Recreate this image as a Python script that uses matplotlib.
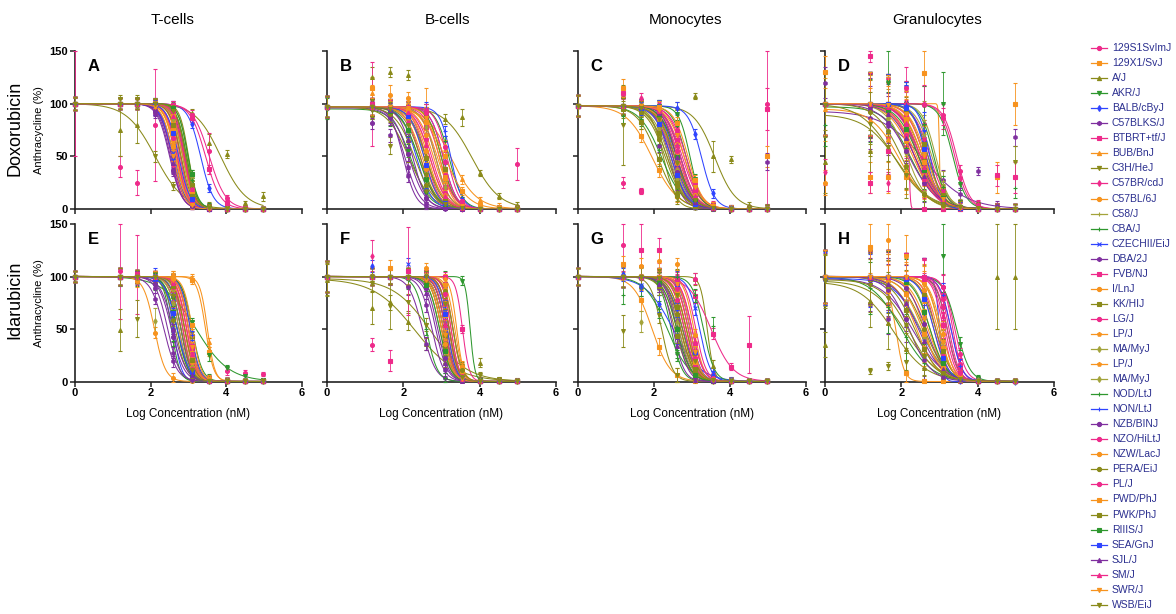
import numpy as np
import matplotlib
matplotlib.use("Agg")
import matplotlib.pyplot as plt

plt.rcParams['font.family'] = ['Liberation Sans', 'DejaVu Sans']

# ---------------- data ----------------
STRAINS = ["129S1SvImJ", "129X1/SvJ", "A/J", "AKR/J", "BALB/cByJ", "C57BLKS/J", "BTBRT+tf/J",
           "BUB/BnJ", "C3H/HeJ", "C57BR/cdJ", "C57BL/6J", "C58/J", "CBA/J", "CZECHII/EiJ",
           "DBA/2J", "FVB/NJ", "I/LnJ", "KK/HIJ", "LG/J", "LP/J", "MA/MyJ", "LP/J", "MA/MyJ",
           "NOD/LtJ", "NON/LtJ", "NZB/BINJ", "NZO/HiLtJ", "NZW/LacJ", "PERA/EiJ", "PL/J",
           "PWD/PhJ", "PWK/PhJ", "RIIIS/J", "SEA/GnJ", "SJL/J", "SM/J", "SWR/J", "WSB/EiJ"]
COLOR_KEYS = ["pink", "orange", "olive", "green", "blue", "purple", "pink", "orange", "olive",
              "pink", "orange", "olive2", "green", "blue", "purple", "pink", "orange", "olive",
              "pink", "orange", "olive2", "orange", "olive2", "green", "blue", "purple", "pink",
              "orange", "olive", "pink", "orange", "olive", "green", "blue", "purple", "pink",
              "orange", "olive"]
MARKERS = ["o", "s", "^", "v", "d", "h", "s", "^", "v", "d", "o", "+", "+", "x", "h", "s", "o",
           "s", "o", "p", "d", "p", "d", "+", "+", "o", "o", "o", "o", "o", "s", "s", "s", "s",
           "^", "^", "v", "v"]

DOSES = [0, 1.18, 1.65, 2.12, 2.6, 3.08, 3.55, 4.02, 4.5, 4.97]

IC50 = {
    "A": [2.85, 2.75, 3.85, 2.90, 3.32, 2.60, 3.45, 2.70, 2.12, 2.55, 2.80, 2.95, 2.88, 2.62, 2.50,
          2.78, 2.65, 2.92, 3.55, 2.72, 2.98, 2.68, 2.84, 2.95, 2.58, 2.52, 2.90, 2.66, 3.00, 2.70,
          2.86, 2.80, 2.99, 2.74, 2.56, 2.88, 2.60, 2.93],
    "B": [2.75, 2.90, 3.80, 2.20, 3.05, 2.05, 2.60, 3.25, 2.15, 2.45, 2.80, 2.60, 3.00, 2.35, 2.00,
          2.85, 2.50, 3.00, 2.95, 2.70, 2.40, 2.55, 2.85, 3.20, 3.25, 2.15, 3.05, 2.65, 2.30, 3.15,
          3.10, 2.60, 2.40, 2.55, 2.25, 2.70, 2.95, 2.45],
    "C": [2.60, 1.95, 3.60, 2.95, 3.25, 2.45, 2.55, 2.70, 2.25, 2.50, 2.60, 2.35, 2.20, 2.55, 2.40,
          2.75, 2.65, 2.10, 2.80, 2.45, 2.50, 2.70, 2.40, 2.85, 2.70, 2.50, 2.85, 2.55, 2.30, 2.65,
          2.90, 2.35, 2.60, 2.45, 2.60, 2.70, 2.80, 2.55],
    "D": [3.40, 3.00, 1.90, 3.35, 2.60, 2.60, 2.20, 1.95, 2.45, 2.75, 2.35, 2.90, 2.25, 2.70, 2.50,
          2.60, 2.30, 2.55, 3.45, 2.40, 2.15, 2.50, 2.80, 2.85, 2.75, 2.20, 2.45, 2.65, 2.00, 2.35,
          2.55, 2.70, 2.45, 2.65, 2.35, 2.50, 2.60, 1.80],
    "E": [2.95, 3.45, 2.80, 3.20, 2.60, 2.35, 2.90, 3.50, 2.70, 2.75, 2.10, 3.00, 2.55, 2.80, 2.45,
          3.00, 2.85, 3.05, 2.90, 2.95, 2.75, 3.05, 2.85, 3.10, 3.05, 2.55, 2.85, 2.90, 2.65, 3.00,
          3.10, 2.90, 2.70, 2.70, 2.60, 2.95, 3.00, 2.80],
    "F": [3.10, 3.35, 2.30, 3.75, 3.20, 2.50, 3.55, 3.20, 2.70, 3.00, 3.25, 3.10, 2.60, 3.30, 2.75,
          3.15, 3.30, 3.00, 3.05, 3.40, 3.15, 3.20, 2.95, 3.10, 3.05, 2.90, 3.20, 3.00, 3.30, 3.25,
          3.15, 3.05, 2.95, 3.15, 2.85, 3.10, 3.05, 3.20],
    "G": [3.00, 1.95, 3.40, 2.45, 2.50, 2.70, 3.50, 2.80, 2.20, 2.85, 2.60, 2.90, 2.35, 3.20, 2.65,
          2.95, 2.75, 2.55, 3.10, 2.70, 2.80, 2.90, 2.65, 3.30, 2.75, 2.60, 2.80, 3.05, 2.70, 2.90,
          2.85, 2.75, 2.60, 2.95, 2.50, 3.00, 2.95, 2.85],
    "H": [3.40, 1.85, 1.80, 3.45, 3.00, 2.30, 3.30, 2.60, 2.10, 2.90, 2.40, 2.75, 2.00, 2.50, 2.20,
          3.10, 2.95, 2.35, 3.35, 2.70, 2.50, 2.85, 3.00, 3.20, 3.30, 2.65, 3.20, 3.05, 2.60, 3.25,
          2.55, 2.90, 2.75, 2.85, 2.45, 3.15, 3.00, 2.20],
}

HILL = {
    "A": [3.0, 3.4, 1.3, 3.2, 2.6, 2.8, 2.2, 3.0, 1.15, 3.0, 3.5, 3.2, 3.0, 2.5, 2.7, 3.3, 3.0, 3.4, 2.0,
          3.1, 3.6, 2.9, 3.2, 3.3, 2.6, 2.8, 3.5, 3.0, 3.8, 3.1, 3.3, 3.0, 3.4, 2.9, 2.7, 3.2, 3.0, 3.5],
    "B": [2.2, 2.0, 1.2, 1.8, 2.6, 2.2, 2.4, 1.3, 1.5, 2.3, 2.1, 1.9, 2.5, 2.2, 2.6, 2.4, 2.0, 2.5, 2.3,
          2.1, 1.8, 2.2, 2.4, 2.5, 3.0, 2.0, 2.6, 2.2, 1.7, 2.7, 1.5, 2.1, 1.9, 2.3, 2.4, 2.2, 2.6, 2.0],
    "C": [2.0, 1.3, 1.6, 3.0, 2.5, 2.2, 2.0, 2.1, 2.6, 1.9, 2.0, 1.8, 1.5, 2.3, 2.4, 2.0, 1.9, 1.6, 2.2,
          2.0, 2.1, 2.3, 1.9, 2.4, 2.2, 2.5, 2.1, 2.0, 1.8, 2.2, 2.3, 1.9, 2.1, 2.0, 2.4, 2.2, 2.0, 1.9],
    "D": [2.5, 30, 1.0, 2.5, 2.0, 0.8, 25, 1.2, 1.8, 2.0, 1.5, 2.5, 1.3, 2.2, 1.6, 1.9, 1.4, 1.7, 2.5,
          1.5, 1.6, 1.8, 2.0, 2.5, 3.0, 1.2, 1.7, 1.9, 1.3, 1.6, 1.8, 2.1, 1.5, 2.5, 1.4, 1.7, 2.0, 1.0],
    "E": [3.5, 4.0, 3.2, 1.0, 4.0, 2.5, 3.6, 4.5, 3.0, 3.3, 3.0, 3.8, 4.0, 3.4, 2.8, 3.6, 3.5, 3.9, 3.2,
          3.7, 3.1, 3.6, 3.4, 3.3, 3.5, 2.6, 3.8, 3.5, 2.9, 3.6, 3.7, 3.3, 3.0, 2.7, 2.5, 3.4, 3.8, 3.2],
    "F": [3.5, 4.0, 0.8, 7.0, 3.6, 2.5, 5.0, 3.8, 0.9, 3.3, 4.2, 3.5, 3.0, 3.9, 2.8, 3.6, 4.0, 3.2, 3.4,
          5.0, 3.7, 3.9, 3.1, 3.5, 3.4, 3.0, 3.8, 3.3, 3.6, 4.1, 3.5, 3.2, 3.0, 3.7, 2.9, 3.6, 3.4, 3.8],
    "G": [3.0, 1.8, 5.0, 3.0, 1.2, 2.6, 1.5, 2.8, 3.0, 2.9, 2.4, 3.2, 1.5, 3.0, 2.7, 3.1, 2.6, 2.3, 3.2,
          2.5, 2.8, 3.0, 2.4, 3.0, 2.2, 2.9, 2.7, 3.3, 2.5, 3.0, 2.8, 2.6, 2.4, 3.1, 3.0, 2.9, 3.2, 2.7],
    "H": [3.0, 4.0, 1.0, 2.5, 8.0, 1.1, 3.0, 2.0, 1.0, 2.6, 1.6, 2.2, 1.1, 1.3, 1.5, 3.2, 2.4, 1.4, 3.5,
          1.8, 1.3, 2.5, 2.8, 3.0, 3.0, 1.7, 3.2, 2.6, 1.5, 3.3, 1.6, 2.2, 2.0, 2.3, 1.4, 3.1, 2.7, 1.2],
}

TOP_DEFAULT = {"A": 100, "B": 97, "C": 98, "D": 100, "E": 100, "F": 100, "G": 100, "H": 100}
TOP_OVERRIDE = {
    "A": {}, "B": {3: 95, 5: 96}, "C": {}, "D": {2: 90, 5: 93, 7: 95, 12: 97},
    "E": {}, "F": {2: 98, 8: 98}, "G": {}, "H": {2: 95, 8: 96, 5: 98, 13: 98, 37: 97},
}

# typical SEM per dose
ERR = {
    "A": [6, 5, 5, 5, 4, 4, 4, 3, 2, 2],
    "B": [10, 8, 7, 6, 6, 5, 4, 3, 3, 3],
    "C": [10, 8, 6, 6, 6, 5, 4, 3, 3, 4],
    "D": [30, 30, 28, 22, 18, 10, 6, 5, 5, 5],
    "E": [5, 8, 6, 5, 5, 4, 4, 3, 2, 2],
    "F": [15, 8, 7, 8, 6, 5, 4, 3, 2, 2],
    "G": [8, 10, 10, 8, 7, 6, 5, 3, 2, 2],
    "H": [25, 25, 25, 22, 18, 12, 6, 3, 2, 2],
}

# measured means deviating from the fit: (strain, dose index, mean, sem)
OUTLIERS = {
    "A": [(0, 0, 100, 50), (0, 1, 40, 10), (0, 2, 25, 12), (2, 1, 75, 25), (2, 2, 80, 17),
          (0, 3, 80, 53), (2, 6, 63, 8), (2, 7, 52, 4), (2, 8, 6, 2), (2, 9, 12, 4), (18, 6, 55, 17),
          (8, 1, 104, 4), (8, 2, 104, 4)],
    "B": [(2, 1, 125, 10), (2, 2, 130, 5), (2, 3, 127, 5), (2, 6, 87, 8), (0, 9, 43, 15),
          (6, 1, 100, 40), (1, 4, 95, 20), (8, 2, 60, 8), (1, 1, 115, 10), (7, 1, 110, 8),
          (16, 3, 105, 6), (27, 2, 108, 10), (5, 2, 70, 6), (25, 1, 82, 6)],
    "C": [(2, 5, 107, 3), (2, 6, 50, 15), (2, 7, 47, 3), (0, 1, 25, 5), (6, 2, 17, 3),
          (8, 1, 80, 38), (0, 9, 100, 100), (15, 9, 95, 20), (5, 9, 45, 8), (1, 9, 50, 10),
          (1, 1, 115, 8), (15, 1, 110, 6), (9, 2, 105, 5), (12, 1, 88, 6), (5, 3, 60, 6)],
    "D": [(1, 0, 130, 15), (5, 0, 120, 15), (2, 0, 45, 30), (9, 0, 35, 12), (16, 0, 25, 12),
          (12, 0, 80, 20), (6, 1, 145, 5), (1, 1, 30, 15), (15, 1, 25, 10), (2, 1, 55, 20),
          (3, 2, 120, 30), (1, 2, 30, 15), (15, 2, 55, 20), (9, 2, 25, 8), (0, 3, 115, 20),
          (2, 3, 40, 20), (1, 3, 30, 12), (1, 4, 129, 50), (3, 5, 100, 30), (5, 7, 36, 4),
          (15, 8, 32, 10), (1, 8, 30, 15), (1, 9, 100, 20), (5, 9, 68, 8), (8, 9, 45, 15),
          (15, 9, 30, 15), (12, 9, 20, 10)],
    "E": [(0, 1, 105, 45), (6, 2, 102, 38), (2, 1, 49, 20), (8, 2, 60, 18), (20, 3, 58, 12),
          (3, 6, 25, 5), (0, 7, 10, 4), (0, 8, 8, 3), (0, 9, 7, 2), (4, 3, 100, 8)],
    "F": [(0, 1, 35, 6), (6, 2, 20, 10), (2, 1, 70, 15), (8, 2, 72, 22), (15, 3, 105, 42),
          (9, 1, 120, 15), (2, 7, 18, 4), (4, 1, 110, 6), (1, 2, 108, 8), (16, 4, 108, 5),
          (13, 3, 112, 6)],
    "G": [(8, 1, 48, 15), (20, 2, 57, 10), (0, 1, 130, 25), (6, 2, 125, 28), (15, 3, 125, 12),
          (6, 8, 35, 27), (23, 6, 53, 8), (1, 1, 112, 8), (10, 2, 110, 8), (16, 3, 115, 10),
          (27, 4, 112, 6), (4, 1, 102, 6), (13, 2, 92, 6), (12, 1, 82, 8), (18, 5, 98, 5)],
    "H": [(2, 8, 100, 50), (2, 9, 100, 50), (8, 1, 10, 3), (8, 2, 15, 4), (8, 3, 19, 8),
          (2, 0, 35, 12), (3, 5, 120, 35), (1, 1, 128, 25), (10, 2, 135, 20), (16, 3, 120, 20),
          (5, 2, 60, 15), (14, 3, 60, 12)],
}

PANELS = [["A", "B", "C", "D"], ["E", "F", "G", "H"]]
CELL_TYPES = ["T-cells", "B-cells", "Monocytes", "Granulocytes"]
DRUGS = ["Doxorubicin", "Idarubicin"]

# ---------------- style ----------------
PALETTE = {"pink": "#EE2A8A", "orange": "#F7931E", "olive": "#8A8A1A", "olive2": "#A3A33A",
           "green": "#2E972E", "blue": "#2F44FF", "purple": "#7F2F9F"}
W, H = 1176, 614
COL_X = [(75, 302), (327, 556), (578, 806), (825, 1054)]
ROW_Y = [(51, 209), (224, 381.5)]


def hill_curve(x, top, ic50, h):
    return top / (1.0 + 10.0 ** ((np.asarray(x, float) - ic50) * h))


fig = plt.figure(figsize=(W / 100, H / 100), dpi=100)

for r in range(2):
    for c in range(4):
        key = PANELS[r][c]
        x0, x1 = COL_X[c]
        yt, yb = ROW_Y[r]
        ax = fig.add_axes([x0 / W, 1 - yb / H, (x1 - x0) / W, (yb - yt) / H])
        xs = np.linspace(0, DOSES[-1], 300)
        outl = {}
        for (si, di, m, e) in OUTLIERS[key]:
            outl[(si, di)] = (m, e)
        for i in range(len(STRAINS)):
            col = PALETTE[COLOR_KEYS[i]]
            top = TOP_OVERRIDE[key].get(i, TOP_DEFAULT[key])
            ic, hh = IC50[key][i], HILL[key][i]
            ax.plot(xs, hill_curve(xs, top, ic, hh), color=col, lw=0.75, zorder=3)
            ys = hill_curve(DOSES, top, ic, hh)
            errs = np.array(ERR[key], float)
            for j in range(len(DOSES)):
                if (i, j) in outl:
                    ys[j], errs[j] = outl[(i, j)]
            lo = np.minimum(errs, ys)
            up = np.minimum(errs, 150 - ys)
            ax.errorbar(DOSES, ys, yerr=[lo, up], fmt=MARKERS[i], ms=2.8, mew=0.8,
                        color=col, ecolor=col, elinewidth=0.6, capsize=1.5, capthick=0.6,
                        zorder=4, clip_on=False)
        ax.set_xlim(0, 6)
        ax.set_ylim(0, 150)
        ax.set_xticks([0, 2, 4, 6])
        ax.set_yticks([0, 50, 100, 150])
        for s in ["top", "right"]:
            ax.spines[s].set_visible(False)
        for s in ["left", "bottom"]:
            ax.spines[s].set_linewidth(1.2)
            ax.spines[s].set_color("#222222")
        ax.tick_params(direction="out", length=3.5, width=1.1, color="#222222", pad=1.5)
        if r == 0:
            ax.set_xticklabels([])
        else:
            ax.set_xticklabels(["0", "2", "4", "6"], fontsize=8, fontweight="bold")
            ax.set_xlabel("Log Concentration (nM)", fontsize=8.5, labelpad=7)
        if c == 0:
            ax.set_yticklabels(["0", "50", "100", "150"], fontsize=8, fontweight="bold")
            ax.set_ylabel("Anthracycline (%)", fontsize=8, labelpad=4)
        else:
            ax.set_yticklabels([])
        ax.text(0.055, 0.9, key, transform=ax.transAxes, fontsize=12, fontweight="bold",
                ha="left", va="center", zorder=6)

# column titles
for c, name in enumerate(CELL_TYPES):
    cx = [173, 447, 685, 937][c]
    fig.text(cx / W, 1 - 20 / H, name, fontsize=11, ha="center", va="center")

# drug row labels
for r, name in enumerate(DRUGS):
    cy = [128, 300][r]
    fig.text(15 / W, 1 - cy / H, name, fontsize=13, rotation=90, ha="center", va="center")

# legend
lax = fig.add_axes([1080 / W, 0, 96 / W, 1])
lax.set_xlim(0, 96)
lax.set_ylim(H, 0)
lax.axis("off")
for i, name in enumerate(STRAINS):
    y = 48 + i * 15.05
    col = PALETTE[COLOR_KEYS[i]]
    lax.plot([11, 27], [y, y], color=col, lw=0.9)
    lax.plot([19], [y], marker=MARKERS[i], ms=3, mew=0.8, color=col)
    lax.text(32, y, name, fontsize=7.5, color="#2B2F8F", ha="left", va="center")

fig.savefig("out.png", dpi=100)
